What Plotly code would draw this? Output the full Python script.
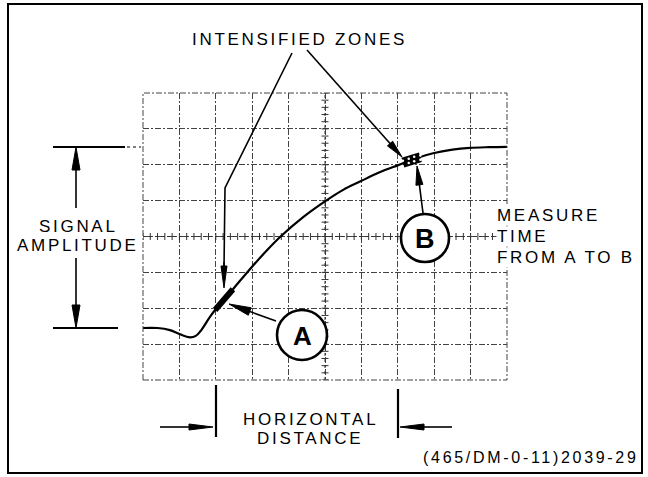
import math
import numpy as np
import plotly.graph_objects as go

# ---------------- data (graticule units: 10 x 8 divisions) ----------------
x_divs = list(range(0, 11))
y_divs = list(range(0, 9))
center_u = 5
center_v = 4

curve_u = [0.0, 0.4, 0.74, 1.0, 1.29, 1.45, 1.57, 1.84, 1.98, 2.47, 2.99, 3.40,
           3.78, 4.40, 5.03, 5.50, 5.96, 6.50, 7.01, 7.50, 7.97, 8.50, 8.98, 9.50, 10.0]
curve_v = [1.45, 1.45, 1.39, 1.28, 1.19, 1.23, 1.35, 1.76, 1.95, 2.53, 3.15, 3.61,
           4.00, 4.54, 5.00, 5.30, 5.53, 5.79, 5.99, 6.18, 6.32, 6.42, 6.47, 6.49, 6.50]

zoneA_u = [1.98, 2.22, 2.47]
zoneA_v = [1.95, 2.24, 2.53]
zoneB_u = [7.14, 7.30, 7.45, 7.62]
zoneB_v = [6.06, 6.12, 6.17, 6.21]

title_text = "INTENSIFIED ZONES"
amp_text = ["SIGNAL", "AMPLITUDE"]
hdist_text = ["HORIZONTAL", "DISTANCE"]
measure_text = ["MEASURE", "TIME", "FROM A TO B"]
code_text = "(465/DM-0-11)2039-29"

# ---------------- layout geometry (pixels) ----------------
W, H = 648, 477
L, T, R, B = 143, 93, 507, 380


def px(x):
    return (x - L) / (R - L)


def py(y):
    return (B - y) / (B - T)


FONT = "Liberation Sans, Arial, sans-serif"
LS = "letter-spacing:2.7px"

shapes = []
annotations = []


def line(x0, y0, x1, y1, w=1.6, dash="solid", color="black"):
    shapes.append(dict(type="line", xref="paper", yref="paper",
                       x0=px(x0), y0=py(y0), x1=px(x1), y1=py(y1),
                       line=dict(color=color, width=w, dash=dash)))


def arrow(x0, y0, x1, y1, hl, hw, w=1.6):
    dx, dy = x1 - x0, y1 - y0
    d = math.hypot(dx, dy)
    ux, uy = dx / d, dy / d
    bx, by = x1 - ux * hl, y1 - uy * hl
    nx, ny = -uy, ux
    line(x0, y0, bx + ux * 2, by + uy * 2, w)
    p = (f"M {px(x1)},{py(y1)} "
         f"L {px(bx + nx * hw / 2)},{py(by + ny * hw / 2)} "
         f"L {px(bx - nx * hw / 2)},{py(by - ny * hw / 2)} Z")
    shapes.append(dict(type="path", xref="paper", yref="paper", path=p,
                       fillcolor="black", line=dict(color="black", width=1)))


def text(x, y, s, size=17, xanchor="center", bg=None, bold=False):
    t = f'<span style="{LS}">{s}</span>'
    if bold:
        t = f"<b>{s}</b>"
    annotations.append(dict(xref="paper", yref="paper", x=px(x), y=py(y),
                            text=t, showarrow=False, xanchor=xanchor, yanchor="middle",
                            font=dict(family=FONT, size=size, color="black"),
                            bgcolor=bg, borderpad=0))


# outer border
shapes.append(dict(type="rect", xref="paper", yref="paper",
                   x0=px(8), x1=px(642), y0=py(473), y1=py(4),
                   line=dict(color="black", width=2)))
# graticule frame
shapes.append(dict(type="rect", xref="paper", yref="paper", x0=0, x1=1, y0=0, y1=1,
                   line=dict(color="#444", width=1, dash="6px,2px,2px,2px")))

# signal amplitude
line(53, 147, 125, 147, 2.2)
line(127, 147, 141, 147, 1.2, "dot")
line(53, 328, 118, 328, 2.2)
arrow(76, 208, 76, 147, 23, 8)
arrow(76, 258, 76, 328, 23, 8)
text(78, 226, amp_text[0])
text(78, 245, amp_text[1])

# intensified zones
text(299, 40, title_text)
shapes.append(dict(type="path", xref="paper", yref="paper",
                   path=f"M {px(292)},{py(53)} L {px(225)},{py(188)} L {px(224)},{py(268)}",
                   line=dict(color="black", width=1.6)))
arrow(224, 262, 224, 288, 22, 6)
arrow(307, 50, 402, 157, 18, 7)

# circles A and B
for cx, cy, r, lab, fs in [(302, 335, 25, "A", 26), (425, 238, 24, "B", 27)]:
    shapes.append(dict(type="circle", xref="paper", yref="paper",
                       x0=px(cx - r), x1=px(cx + r), y0=py(cy + r), y1=py(cy - r),
                       fillcolor="white", line=dict(color="black", width=2.6), layer="above"))
    text(cx, cy + 1, lab, size=fs, bold=True)
arrow(276, 321, 229, 304, 22, 8)
arrow(423, 213, 417, 166, 19, 7)

# measure text (white background masks graticule edge)
for i, s in enumerate(measure_text):
    text(496, 215 + i * 21, s, xanchor="left", bg="white")

# horizontal distance
line(216, 385, 216, 437, 2.2)
line(398, 389, 398, 438, 2.2)
arrow(160, 427, 213, 427, 24, 6)
arrow(452, 427, 400, 427, 24, 6)
text(310, 419, hdist_text[0])
text(310, 438, hdist_text[1])

# figure code
text(640, 457, code_text, size=16, xanchor="right")

# ---------------- traces ----------------
fig = go.Figure()
minor = np.round(np.arange(0, 10.001, 0.2), 2)
minor_v = np.round(np.arange(0, 8.001, 0.2), 2)
fig.add_trace(go.Scatter(x=[0, 10], y=[center_v, center_v], mode="lines",
                         line=dict(color="#333", width=1, dash="dot"), hoverinfo="skip"))
fig.add_trace(go.Scatter(x=minor, y=[center_v] * len(minor), mode="markers",
                         marker=dict(symbol="line-ns", size=5, line=dict(color="#333", width=1)),
                         hoverinfo="skip"))
fig.add_trace(go.Scatter(x=[center_u, center_u], y=[0, 8], mode="lines",
                         line=dict(color="#333", width=1, dash="dot"), hoverinfo="skip"))
fig.add_trace(go.Scatter(x=[center_u] * len(minor_v), y=minor_v, mode="markers",
                         marker=dict(symbol="line-ew", size=5, line=dict(color="#333", width=1)),
                         hoverinfo="skip"))
fig.add_trace(go.Scatter(x=curve_u, y=curve_v, mode="lines",
                         line=dict(color="black", width=2.2, shape="spline", smoothing=1.0)))
fig.add_trace(go.Scatter(x=zoneA_u, y=zoneA_v, mode="lines",
                         line=dict(color="black", width=6)))
fig.add_trace(go.Scatter(x=zoneB_u, y=zoneB_v, mode="lines",
                         line=dict(color="black", width=10)))
fig.add_trace(go.Scatter(x=zoneB_u + zoneB_u[1:], y=[v + 0.05 for v in zoneB_v] + [v - 0.07 for v in zoneB_v[1:]],
                         mode="markers", marker=dict(color="white", size=2.5, symbol="circle")))

fig.update_layout(
    width=W, height=H, autosize=False,
    margin=dict(l=L, r=W - R, t=T, b=H - B, pad=0),
    paper_bgcolor="white", plot_bgcolor="white",
    showlegend=False,
    xaxis=dict(range=[0, 10], tickvals=x_divs, showticklabels=False, ticks="",
               showgrid=True, gridcolor="#444", gridwidth=1, griddash="6px,2px,2px,2px",
               zeroline=False, showline=False, fixedrange=True),
    yaxis=dict(range=[0, 8], tickvals=y_divs, showticklabels=False, ticks="",
               showgrid=True, gridcolor="#444", gridwidth=1, griddash="6px,2px,2px,2px",
               zeroline=False, showline=False, fixedrange=True),
    shapes=shapes, annotations=annotations,
)
fig.write_html("out.html", config={"displayModeBar": False},
               post_script="document.body.style.margin='0px';document.body.style.overflow='hidden';")
